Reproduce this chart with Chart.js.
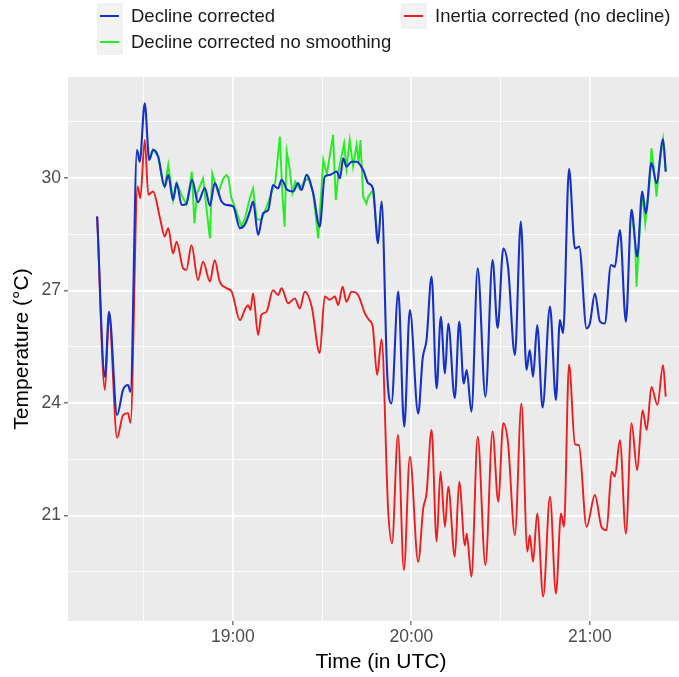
<!DOCTYPE html>
<html>
<head>
<meta charset="utf-8">
<title>Temperature corrections</title>
<script src="https://cdn.jsdelivr.net/npm/chart.js@4.4.1/dist/chart.umd.min.js"></script>
<style>
  html, body { margin: 0; padding: 0; background: #fff; overflow: hidden; }
  canvas { display: block; }
</style>
</head>
<body>
<canvas id="tempchart" width="694" height="677"></canvas>
<script>
// time in minutes after 18:00 UTC, temperatures in °C
const blueTime = [14.4, 17.0, 18.4, 21.1, 23.1, 24.8, 25.6, 27.8, 28.7, 30.4, 31.9, 33.2, 34.9, 37.1, 38.3, 39.9,
  41.1, 42.8, 44.4, 46.3, 48.3, 50.6, 52.3, 53.9, 56.2, 57.9, 60.1, 62.4, 64.0, 65.7, 66.8, 68.5, 70.2, 71.9,
  73.5, 75.2, 76.4, 78.3, 80.3, 81.9, 83.1, 84.8, 87.0, 89.2, 90.9, 92.6, 94.9, 96.0, 97.1, 98.2, 99.9, 101.6,
  103.8, 105.5, 107.1, 108.8, 110.0, 111.9, 113.3, 115.6, 117.6, 119.5, 122.3, 123.8, 125.1, 126.8, 128.5,
  129.9, 131.3, 132.4, 134.6, 136.1, 137.6, 138.6, 140.2, 142.3, 144.9, 147.3, 149.0, 150.9, 152.5, 154.8,
  156.8, 158.7, 159.8, 160.9, 162.3, 164.1, 166.6, 168.6, 169.9, 171.0, 173.0, 175.0, 176.4, 178.9, 180.0,
  181.7, 183.4, 185.0, 187.1, 188.4, 190.1, 192.1, 194.0, 195.9, 197.6, 198.8, 200.7, 202.4, 204.6, 205.5];
const blueTemp = [28.97, 24.70, 26.43, 23.68, 24.35, 24.48, 24.30, 30.75, 30.43, 31.99, 30.48, 30.75, 30.57, 29.77, 30.08, 29.41,
  29.86, 29.28, 29.31, 29.95, 29.35, 29.73, 29.26, 29.86, 29.37, 29.28, 29.24, 28.66, 28.75, 29.10, 29.37, 28.48, 29.06, 29.15,
  29.81, 29.72, 29.95, 29.68, 29.64, 29.86, 29.68, 30.08, 29.59, 28.70, 30.04, 30.08, 30.17, 29.99, 30.52, 30.30, 30.43, 30.43,
  30.21, 29.86, 29.72, 28.26, 29.37, 24.75, 23.99, 26.97, 23.37, 26.48, 23.72, 25.19, 25.68, 27.37, 24.39,
  26.30, 24.79, 26.12, 24.13, 26.17, 24.52, 24.88, 23.77, 27.59, 24.17, 27.81, 26.00, 28.12, 27.63, 25.28,
  28.84, 24.88, 25.41, 24.70, 26.08, 23.88, 26.57, 24.08, 26.21, 25.86, 30.24, 28.12, 28.17, 25.99, 26.12,
  26.92, 26.17, 26.12, 27.68, 27.63, 28.61, 26.17, 29.15, 27.90, 29.64, 29.06, 30.40, 29.86, 31.03, 30.17];

// unsmoothed series, only where it shows from under the smoothed one
const greenTime = [31.9, 33.2, 34.9, 36.4, 37.1, 38.3, 39.9, 41.1, 43.0, 44.4, 45.6, 46.2, 47.1, 48.0, 50.0, 51.2,
  52.3, 53.1, 55.1, 56.8, 57.9, 58.6, 59.4, 61.2, 62.9, 64.0, 65.7, 66.8, 68.0, 69.6, 71.2, 73.0, 74.3, 75.8,
  76.7, 77.4, 78.1, 79.0, 80.0, 81.0, 82.5, 84.0, 85.4, 87.0, 88.7, 90.4, 91.6, 93.7, 94.6, 95.6, 97.4, 98.2,
  99.3, 100.4, 101.6, 102.3, 102.9, 103.8, 104.9, 105.5, 107.1, 108.8, 110.0,
  194.0, 195.2, 195.7, 196.3, 197.6, 198.6, 200.0, 200.7, 201.6, 202.4, 203.4, 204.6, 205.5];
const greenTemp = [30.48, 30.75, 30.57, 29.90, 29.77, 30.35, 29.41, 29.86, 29.50, 29.30, 29.80, 30.17, 28.79, 29.60, 29.99, 29.15,
  28.39, 30.12, 29.59, 29.99, 30.08, 29.99, 29.50, 29.10, 28.70, 28.90, 29.46, 29.72, 28.90, 28.88, 29.20, 29.59, 29.90, 31.10,
  29.50, 28.70, 30.70, 30.30, 29.60, 29.90, 29.70, 29.90, 30.00, 29.60, 28.39, 30.48, 30.10, 31.15, 29.41, 30.20, 30.92, 30.25,
  31.01, 30.30, 30.88, 30.40, 31.01, 29.50, 29.32, 29.50, 29.68, 28.26, null,
  29.15, 28.30, 27.10, 28.00, 29.64, 28.79, 29.80, 30.79, 30.20, 29.50, 30.40, 31.03, 30.17];

const redTime = [14.4, 17.0, 18.4, 21.1, 23.1, 24.8, 25.6, 28.0, 28.9, 30.4, 31.6, 33.2, 35.6, 37.1, 38.3, 39.9,
  41.1, 43.3, 44.4, 46.1, 48.3, 50.0, 52.3, 53.9, 55.6, 57.9, 59.6, 62.4, 64.0, 65.1, 65.9, 66.8, 68.5, 69.6,
  71.3, 73.5, 75.2, 76.4, 78.6, 80.8, 82.5, 84.2, 86.5, 89.2, 90.9, 92.6, 94.3, 95.4, 96.9, 98.2, 99.9, 102.1,
  104.4, 105.8, 107.0, 108.5, 110.0, 112.2, 113.5, 115.5, 117.5, 119.5, 122.3, 124.0, 125.1, 126.8, 128.5,
  129.8, 131.3, 132.4, 134.6, 136.1, 138.0, 138.6, 140.2, 142.3, 144.9, 147.3, 149.2, 150.9, 152.5, 154.8,
  157.0, 159.0, 159.8, 160.9, 162.3, 164.3, 166.6, 168.6, 170.3, 171.3, 173.0, 175.0, 176.3, 178.9, 181.7,
  183.9, 185.6, 187.3, 188.4, 190.1, 192.1, 194.0, 195.9, 197.7, 199.1, 200.7, 202.7, 204.6, 205.5];
const redTemp = [28.97, 24.35, 26.30, 23.07, 23.68, 23.73, 23.47, 29.77, 29.46, 31.01, 29.55, 29.64, 28.90, 28.44, 28.66, 27.99,
  28.30, 27.59, 27.55, 28.21, 27.28, 27.77, 27.24, 27.81, 27.24, 27.06, 26.97, 26.21, 26.48, 26.61, 26.48, 26.92, 25.81, 26.35,
  26.43, 27.01, 26.88, 27.06, 26.66, 26.79, 26.52, 26.97, 26.57, 25.33, 26.84, 26.75, 26.84, 26.61, 27.10, 26.70, 26.97, 26.88,
  26.39, 26.21, 26.05, 24.75, 25.70, 21.15, 20.26, 23.15, 19.55, 22.57, 19.77, 21.19, 21.59, 23.28, 20.31,
  22.17, 20.70, 21.77, 19.91, 21.90, 20.21, 20.52, 19.37, 23.10, 19.68, 23.24, 21.37, 23.46, 22.93, 20.48,
  23.99, 20.04, 20.48, 19.77, 21.06, 18.84, 21.50, 18.92, 21.06, 20.70, 25.03, 22.90, 22.88, 20.70, 21.55,
  20.70, 20.61, 22.17, 22.04, 23.01, 20.52, 23.46, 22.21, 23.81, 23.28, 24.43, 23.95, 25.01, 24.17];

const seriesNames = ['Decline corrected', 'Decline corrected no smoothing', 'Inertia corrected (no decline)'];
const xGrid = [30, 60, 90, 120, 150, 180, 210];
const xTicksMajor = [60, 120, 180];
const yGrid = [19.5, 21, 22.5, 24, 25.5, 27, 28.5, 30, 31.5];
const yTicksMajor = [21, 24, 27, 30];

const FONT = '"Liberation Sans", Arial, Helvetica, sans-serif';

function pairs(xs, ys) {
  return xs.map((x, i) => ({ x: x, y: ys[i] }));
}

function fmtTime(m) {
  return (18 + Math.floor(m / 60)) + ':' + String(m % 60).padStart(2, '0');
}

// grey panel behind the grid, like ggplot
const panelBg = {
  id: 'panelBg',
  beforeDraw(chart) {
    const { ctx, chartArea: a } = chart;
    ctx.save();
    ctx.fillStyle = '#ebebeb';
    ctx.fillRect(a.left, a.top, a.right - a.left, a.bottom - a.top);
    ctx.restore();
  }
};

// legend in two columns above the panel
const ggLegend = {
  id: 'ggLegend',
  afterDraw(chart) {
    const ctx = chart.ctx;
    const slots = [
      { ds: 0, x: 97, y: 3 },
      { ds: 1, x: 97, y: 29 },
      { ds: 2, x: 401, y: 3 }
    ];
    ctx.save();
    ctx.font = '18.5px ' + FONT;
    ctx.textBaseline = 'middle';
    slots.forEach(s => {
      const ds = chart.data.datasets[s.ds];
      ctx.fillStyle = '#f2f2f2';
      ctx.fillRect(s.x, s.y, 26, 26);
      ctx.strokeStyle = ds.borderColor;
      ctx.lineWidth = 2;
      ctx.beginPath();
      ctx.moveTo(s.x + 3, s.y + 13);
      ctx.lineTo(s.x + 22, s.y + 13);
      ctx.stroke();
      ctx.fillStyle = '#1a1a1a';
      ctx.fillText(ds.label, s.x + 34, s.y + 14);
    });
    ctx.restore();
  }
};

new Chart('tempchart', {
  type: 'line',
  data: {
    datasets: [{
      label: seriesNames[0],
      data: pairs(blueTime, blueTemp),
      borderColor: '#1632c6',
      borderWidth: 2.1,
      cubicInterpolationMode: 'monotone'
    }, {
      label: seriesNames[1],
      data: pairs(greenTime, greenTemp),
      borderColor: '#22ee22',
      borderWidth: 1.9,
      tension: 0
    }, {
      label: seriesNames[2],
      data: pairs(redTime, redTemp),
      borderColor: '#ee1c1c',
      borderWidth: 1.9,
      cubicInterpolationMode: 'monotone'
    }]
  },
  options: {
    responsive: false,
    animation: false,
    events: [],
    elements: { point: { radius: 0 } },
    layout: { padding: { top: 77, left: 0, right: 0, bottom: 0 } },
    plugins: {
      legend: { display: false },
      tooltip: { enabled: false }
    },
    scales: {
      x: {
        type: 'linear',
        min: 4.6,
        max: 215,
        afterBuildTicks: s => { s.ticks = xGrid.map(v => ({ value: v })); },
        afterFit: s => { s.height = 56; },
        border: { display: false },
        grid: {
          color: '#ffffff',
          lineWidth: c => xTicksMajor.includes(c.tick.value) ? 1.7 : 0.8,
          tickLength: 4,
          tickWidth: 1,
          tickColor: c => xTicksMajor.includes(c.tick.value) ? '#333333' : 'rgba(0,0,0,0)'
        },
        ticks: {
          autoSkip: false,
          maxRotation: 0,
          padding: 2,
          color: '#4d4d4d',
          font: { family: FONT, size: 17.5 },
          callback: v => xTicksMajor.includes(v) ? fmtTime(v) : ''
        },
        title: {
          display: true,
          text: 'Time (in UTC)',
          color: '#000000',
          font: { family: FONT, size: 21 },
          padding: { top: 0, bottom: 2 }
        }
      },
      y: {
        min: 18.19,
        max: 32.69,
        afterBuildTicks: s => { s.ticks = yGrid.map(v => ({ value: v })); },
        afterFit: s => { s.width = 68; },
        border: { display: false },
        grid: {
          color: '#ffffff',
          lineWidth: c => yTicksMajor.includes(c.tick.value) ? 1.7 : 0.8,
          tickLength: 4,
          tickWidth: 1,
          tickColor: c => yTicksMajor.includes(c.tick.value) ? '#333333' : 'rgba(0,0,0,0)'
        },
        ticks: {
          autoSkip: false,
          padding: 3,
          color: '#4d4d4d',
          font: { family: FONT, size: 17.5 },
          callback: v => yTicksMajor.includes(v) ? String(v) : ''
        },
        title: {
          display: true,
          text: 'Temperature (°C)',
          color: '#000000',
          font: { family: FONT, size: 21 },
          padding: { top: 10, bottom: 0 }
        }
      }
    }
  },
  plugins: [panelBg, ggLegend]
});
</script>
</body>
</html>
